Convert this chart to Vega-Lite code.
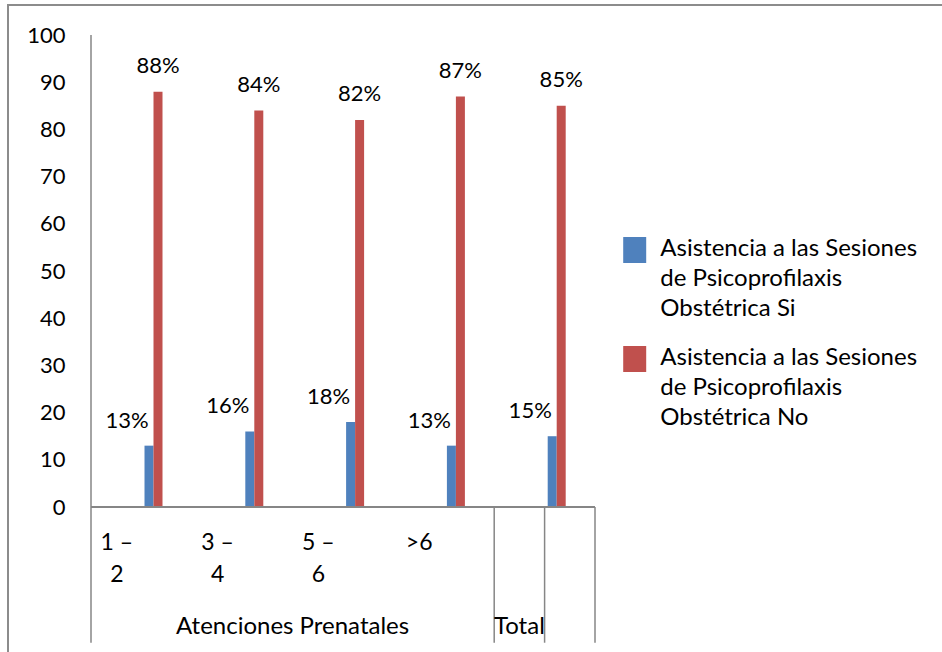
{
  "$schema": "https://vega.github.io/schema/vega-lite/v6.json",
  "width": 936,
  "height": 649,
  "autosize": "none",
  "padding": {"left": 8, "top": 5, "right": -2, "bottom": -2},
  "background": "white",
  "config": {
    "font": "Lato",
    "view": {"stroke": "#8c8c8c", "strokeWidth": 2},
    "axis": {"labelFont": "Lato", "labelColor": "#000000", "labelFontSize": 22},
    "text": {"font": "Lato", "fontSize": 22, "color": "#000000"},
    "style": {"guide-label": {"lineHeight": 30}}
  },
  "data": {
    "values": [
      {"atencion": "1 – 2", "asistencia": "Si", "valor": 13, "etiqueta": "13%"},
      {"atencion": "1 – 2", "asistencia": "No", "valor": 88, "etiqueta": "88%"},
      {"atencion": "3 – 4", "asistencia": "Si", "valor": 16, "etiqueta": "16%"},
      {"atencion": "3 – 4", "asistencia": "No", "valor": 84, "etiqueta": "84%"},
      {"atencion": "5 – 6", "asistencia": "Si", "valor": 18, "etiqueta": "18%"},
      {"atencion": "5 – 6", "asistencia": "No", "valor": 82, "etiqueta": "82%"},
      {"atencion": ">6", "asistencia": "Si", "valor": 13, "etiqueta": "13%"},
      {"atencion": ">6", "asistencia": "No", "valor": 87, "etiqueta": "87%"},
      {"atencion": "Total", "asistencia": "Si", "valor": 15, "etiqueta": "15%"},
      {"atencion": "Total", "asistencia": "No", "valor": 85, "etiqueta": "85%"}
    ]
  },
  "layer": [
    {
      "mark": {"type": "bar"},
      "encoding": {
        "x": {
          "field": "atencion", "type": "nominal",
          "sort": ["1 – 2", "3 – 4", "5 – 6", ">6", "Total"],
          "scale": {"domain": ["1 – 2", "3 – 4", "5 – 6", ">6", "Total"], "range": [83, 587], "paddingInner": 0, "paddingOuter": 0},
          "axis": {
            "orient": "bottom", "offset": -147, "title": null, "domain": false, "ticks": false, "grid": false,
            "labelAngle": 0, "labelAlign": "center", "labelBaseline": "top", "labelPadding": 24,
            "labelOffset": -24.6, "labelLineHeight": 32.4, "labelFontSize": 23,
            "labelExpr": "datum.value == 'Total' ? '' : (datum.value == '>6' ? '>6' : [slice(datum.value, 0, 3), slice(datum.value, 4)])"
          }
        },
        "xOffset": {
          "field": "asistencia", "type": "nominal",
          "scale": {"domain": ["Si", "No"], "range": [53.5, 71.5], "paddingInner": 0, "paddingOuter": 0}
        },
        "y": {
          "field": "valor", "type": "quantitative",
          "scale": {"domain": [-31.14, 106.36], "nice": false, "zero": false},
          "axis": {
            "orient": "left", "offset": -83, "title": null, "domain": false, "ticks": false, "grid": false,
            "values": [0, 10, 20, 30, 40, 50, 60, 70, 80, 90, 100], "labelPadding": 26
          }
        },
        "color": {
          "field": "asistencia", "type": "nominal",
          "scale": {"domain": ["Si", "No"], "range": ["#4F81BD", "#C0504D"]},
          "legend": {
            "orient": "none", "legendX": 614.7, "legendY": 239, "title": null,
            "symbolType": "M-1,-1.65L1,-1.65L1,0.61L-1,0.61Z", "symbolSize": 529, "symbolStrokeWidth": 0,
            "labelFont": "Lato", "labelFontSize": 24, "labelColor": "#000000", "labelLimit": 400,
            "labelOffset": 13.6, "labelBaseline": "alphabetic", "rowPadding": 25, "padding": 0,
            "labelExpr": "['Asistencia a las Sesiones', 'de Psicoprofilaxis', 'Obstétrica ' + datum.value]"
          }
        }
      }
    },
    {
      "transform": [{"filter": "datum.asistencia == 'Si'"}],
      "mark": {"type": "text", "align": "center", "baseline": "alphabetic", "dx": -22, "dy": -18},
      "encoding": {
        "x": {"field": "atencion", "type": "nominal"},
        "xOffset": {"field": "asistencia", "type": "nominal"},
        "y": {"field": "valor", "type": "quantitative"},
        "text": {"field": "etiqueta"}
      }
    },
    {
      "transform": [{"filter": "datum.asistencia == 'No'"}],
      "mark": {"type": "text", "align": "center", "baseline": "alphabetic", "dy": -18.5},
      "encoding": {
        "x": {"field": "atencion", "type": "nominal"},
        "xOffset": {"field": "asistencia", "type": "nominal"},
        "y": {"field": "valor", "type": "quantitative"},
        "text": {"field": "etiqueta"}
      }
    },
    {
      "transform": [{"filter": "datum.asistencia == 'Si'"}],
      "mark": {"type": "rule", "color": "#868686", "strokeWidth": 1.5},
      "encoding": {
        "x": {"datum": "1 – 2", "type": "nominal", "bandPosition": 0},
        "x2": {"datum": "Total", "bandPosition": 1},
        "y": {"datum": 0, "type": "quantitative"}
      }
    },
    {
      "transform": [{"filter": "datum.asistencia == 'Si' && (datum.atencion == '>6' || datum.atencion == 'Total')"}],
      "mark": {"type": "rule", "color": "#868686", "strokeWidth": 1.5},
      "encoding": {
        "x": {"field": "atencion", "type": "nominal", "bandPosition": 1},
        "y": {"datum": 0, "type": "quantitative"},
        "y2": {"datum": -28.75}
      }
    },
    {
      "transform": [{"filter": "datum.asistencia == 'Si' && datum.atencion == 'Total'"}],
      "mark": {"type": "rule", "color": "#868686", "strokeWidth": 1.5},
      "encoding": {
        "x": {"field": "atencion", "type": "nominal", "bandPosition": 0.5},
        "y": {"datum": 0, "type": "quantitative"},
        "y2": {"datum": -28.75}
      }
    },
    {
      "transform": [{"filter": "datum.asistencia == 'Si' && datum.atencion == '1 – 2'"}],
      "mark": {"type": "rule", "color": "#868686", "strokeWidth": 1.5},
      "encoding": {
        "x": {"field": "atencion", "type": "nominal", "bandPosition": 0},
        "y": {"datum": 100, "type": "quantitative"},
        "y2": {"datum": -28.75}
      }
    },
    {
      "data": {"values": [{"atencion": "5 – 6", "grupo": "Atenciones Prenatales"}, {"atencion": "Total", "grupo": "Total"}]},
      "transform": [{"filter": "datum.grupo != 'Total'"}],
      "mark": {"type": "text", "align": "center", "baseline": "alphabetic", "fontSize": 24},
      "encoding": {
        "x": {"field": "atencion", "type": "nominal", "bandPosition": 0},
        "y": {"datum": -26.9, "type": "quantitative"},
        "text": {"field": "grupo"}
      }
    },
    {
      "data": {"values": [{"atencion": "5 – 6", "grupo": "Atenciones Prenatales"}, {"atencion": "Total", "grupo": "Total"}]},
      "transform": [{"filter": "datum.grupo == 'Total'"}],
      "mark": {"type": "text", "align": "center", "baseline": "alphabetic", "fontSize": 24},
      "encoding": {
        "x": {"field": "atencion", "type": "nominal", "bandPosition": 0.25},
        "y": {"datum": -26.9, "type": "quantitative"},
        "text": {"field": "grupo"}
      }
    }
  ]
}
